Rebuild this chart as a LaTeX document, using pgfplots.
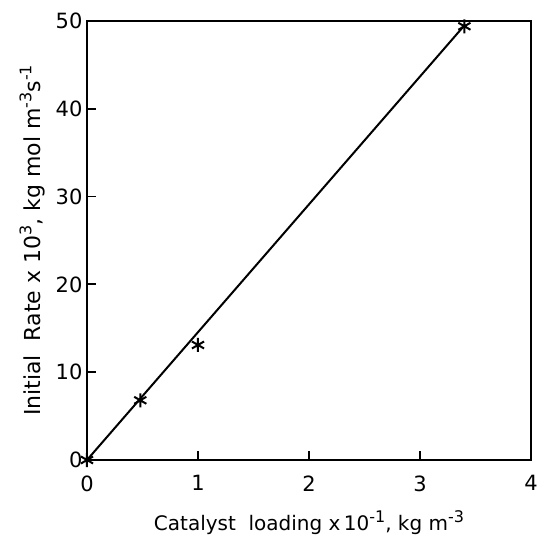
\documentclass[border=0pt]{standalone}
\usepackage{fontspec}
\setmainfont{DejaVu Sans}
\usepackage{pgfplots}
\pgfplotsset{compat=1.18}
% raised exponent, set slightly smaller than the text
\newcommand{\ex}[1]{\raisebox{0.75ex}{\fontsize{16}{16}\selectfont #1}}
\begin{document}
\begin{tikzpicture}
\begin{axis}[
  name=ax, at={(0,0)}, anchor=south west,
  scale only axis, width=444pt, height=439pt,
  xmin=0, xmax=4, ymin=0, ymax=50,
  xtick={0,1,2,3,4}, ytick={0,10,20,30,40,50},
  tick align=inside, xtick pos=bottom, ytick pos=left,
  major tick length=9pt,
  axis line style={line width=2.2pt},
  every tick/.style={line width=1.8pt, black},
  /pgf/number format/assume math mode=true,
  tick label style={font=\fontsize{21}{25}\selectfont},
  xticklabel style={yshift=-12pt},
  yticklabel style={xshift=-1pt},
  label style={font=\fontsize{20}{24}\selectfont},
  xlabel={Catalyst\ \ loading x\,10\ex{-1}, kg m\ex{-3}},
  ylabel={Initial\ \ Rate x 10\ex{3}, kg mol m\ex{-3}s\ex{-1}},
  xlabel style={yshift=-12pt},
  ylabel style={yshift=4pt, font=\fontsize{22}{26}\selectfont},
  clip=false,
]
% fitted straight line through the origin
\addplot[black, line width=2pt, no marks] coordinates {(0,0) (3.4,49.5)};
% measured initial rates
\addplot[only marks, black, mark=asterisk, mark size=7pt, mark options={line width=2pt}]
  coordinates {(0,0) (0.48,6.8) (1.0,13.1) (3.4,49.4)};
\end{axis}
\pgfresetboundingbox
\path (-87pt,-80pt) rectangle (450pt,460pt);
\end{tikzpicture}
\end{document}
